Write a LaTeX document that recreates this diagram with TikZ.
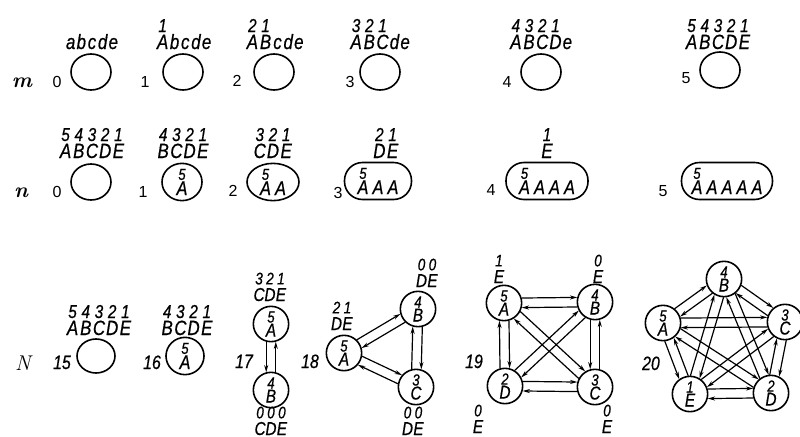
\documentclass[tikz,border=0pt]{standalone}
\usepackage{fontspec}
\usetikzlibrary{calc,arrows.meta,shapes.geometric}
\newfontfamily\gost[FakeStretch=0.82,FakeBold=0.6]{Liberation Sans}
\newfontfamily\plainsans{Liberation Sans}
\newlength\colw
\newlength\rowsep
\def\digfont{}
% one letter column with its digit above
\newcommand\cl[2]{\vbox{\baselineskip=\rowsep\lineskiplimit=-\maxdimen\lineskip=0pt
  \hbox to\colw{\hss{\digfont#1}\hss}\hbox to\colw{\hss#2\hss}}}
% lowercase letter without digit
\newcommand\lc[1]{\hbox to 8pt{\hss#1\hss}}
% clipping radius and angle for paired connectors
\def\rad{13.7pt}
\def\ang{15.2}
\newcommand\biedge[3][1]{%
  \pgfmathsetmacro\angA{(#1)*\ang}%
  \pgfmathsetmacro\angB{0-(\angA)}%
  \draw[edge] ($(#2)!\rad!\angA:(#3)$) -- ($(#3)!\rad!\angB:(#2)$);
  \draw[edge] ($(#3)!\rad!\angA:(#2)$) -- ($(#2)!\rad!\angB:(#3)$);
}
\tikzset{
  lbl/.style={inner sep=0pt, anchor=base,
    font=\gost\itshape\fontsize{15.5}{15.5}\selectfont\setlength\colw{9.9pt}\setlength\rowsep{12.75pt}\def\digfont{\fontsize{14}{14}\selectfont}},
  glbl/.style={inner sep=0pt, anchor=base,
    font=\gost\itshape\fontsize{14}{14}\selectfont\setlength\colw{8.2pt}\setlength\rowsep{12.5pt}\def\digfont{\fontsize{12.5}{12.5}\selectfont}},
  bigin/.style={font=\gost\itshape\fontsize{15}{15}\selectfont\setlength\colw{11.25pt}\setlength\rowsep{11.5pt}\def\digfont{\fontsize{12}{12}\selectfont}},
  ring/.style={draw, line width=1.2pt, ellipse, inner sep=0pt, minimum width=30pt, minimum height=27pt},
  pill/.style={draw, line width=1.2pt, rectangle, rounded corners=13.5pt, inner sep=0pt, minimum height=27.75pt},
  gnode/.style={draw, line width=1.2pt, circle, inner sep=0pt, minimum size=26.5pt,
    font=\gost\itshape\fontsize{14}{14}\selectfont\setlength\colw{9pt}\setlength\rowsep{10.5pt}\def\digfont{\fontsize{12}{12}\selectfont}},
  idx/.style={inner sep=0pt, anchor=base, font=\plainsans\fontsize{12}{12}\selectfont},
  gidx/.style={inner sep=0pt, anchor=base, font=\gost\itshape\fontsize{14.5}{14.5}\selectfont},
  rowname/.style={inner sep=0pt, anchor=base, font=\fontsize{16}{16}\selectfont\bfseries\itshape},
  edge/.style={line width=0.9pt, -{Stealth[length=5.5pt,width=3pt]}}
}
\begin{document}
\begin{tikzpicture}[x=0.75pt,y=-0.75pt]
\useasboundingbox (0,0) rectangle (800,436);

% ---- row m ----
\node[rowname] (lm) at (22,87) {m};
\node[idx] (im0) at (57,87) {0};
\node[idx] (im1) at (145,87) {1};
\node[idx] (im2) at (237,86) {2};
\node[idx] (im3) at (350,87) {3};
\node[idx] (im4) at (507,87) {4};
\node[idx] (im5) at (686,83) {5};
\node[ring] (m0) at (91,72) {};
\node[ring] (m1) at (183,72) {};
\node[ring] (m2) at (274,72) {};
\node[ring] (m3) at (380,72) {};
\node[ring] (m4) at (541,72) {};
\node[ring] (m5) at (720,70) {};
\node[lbl] (tm0) at (92,49) {\lc{a}\lc{b}\lc{c}\lc{d}\lc{e}};
\node[lbl] (tm1) at (184,49) {\cl{1}{A}\lc{b}\lc{c}\lc{d}\lc{e}};
\node[lbl] (tm2) at (275,49) {\cl{2}{A}\cl{1}{B}\lc{c}\lc{d}\lc{e}};
\node[lbl] (tm3) at (380,49) {\cl{3}{A}\cl{2}{B}\cl{1}{C}\lc{d}\lc{e}};
\node[lbl] (tm4) at (541,49) {\cl{4}{A}\cl{3}{B}\cl{2}{C}\cl{1}{D}\lc{e}};
\node[lbl] (tm5) at (718,49) {\cl{5}{A}\cl{4}{B}\cl{3}{C}\cl{2}{D}\cl{1}{E}};

% ---- row n ----
\node[rowname] (ln) at (21,197) {n};
\node[idx] (in0) at (57,197) {0};
\node[idx] (in1) at (143,197) {1};
\node[idx] (in2) at (233,196) {2};
\node[idx] (in3) at (338,198) {3};
\node[idx] (in4) at (491,195) {4};
\node[idx] (in5) at (663,196) {5};
\node[ring] (n0) at (91,182) {};
\node[ring, bigin, minimum width=30pt, minimum height=27.75pt] (n1) at (182,182) {\cl{5}{A}};
\node[ring, bigin, minimum width=39pt, minimum height=27.75pt] (n2) at (273,182) {\cl{5}{A}\cl{}{A}};
\node[pill, bigin, minimum width=50.25pt] (n3) at (378,181) {\cl{5}{A}\cl{}{A}\cl{}{A}};
\node[pill, bigin, minimum width=61.5pt] (n4) at (547,181) {\cl{5}{A}\cl{}{A}\cl{}{A}\cl{}{A}};
\node[pill, bigin, minimum width=68.25pt] (n5) at (727,181) {\cl{5}{A}\cl{}{A}\cl{}{A}\cl{}{A}\cl{}{A}};
\node[lbl] (tn0) at (92,158) {\cl{5}{A}\cl{4}{B}\cl{3}{C}\cl{2}{D}\cl{1}{E}};
\node[lbl] (tn1) at (183,158) {\cl{4}{B}\cl{3}{C}\cl{2}{D}\cl{1}{E}};
\node[lbl] (tn2) at (273,158) {\cl{3}{C}\cl{2}{D}\cl{1}{E}};
\node[lbl] (tn3) at (386,158) {\cl{2}{D}\cl{1}{E}};
\node[lbl] (tn4) at (547,158) {\cl{1}{E}};

% ---- row N ----
\node[inner sep=0pt, anchor=base, font=\fontsize{16}{16}\selectfont\itshape] (lN) at (23,370) {N};
\node[gidx] (i15) at (62,369) {15};
\node[gidx] (i16) at (152,369) {16};
\node[ring, minimum width=28.5pt, minimum height=25.5pt] (N15) at (96,356) {};
\node[ring, bigin, minimum width=28.5pt, minimum height=25.5pt] (N16) at (185,356) {\cl{5}{A}};
\node[lbl] (t15) at (99,335) {\cl{5}{A}\cl{4}{B}\cl{3}{C}\cl{2}{D}\cl{1}{E}};
\node[lbl] (t16) at (187,335) {\cl{4}{B}\cl{3}{C}\cl{2}{D}\cl{1}{E}};

% graph 17
\node[gidx] (i17) at (244,368) {17};
\node[gnode] (gA) at (271,324) {\cl{5}{A}};
\node[gnode] (gB) at (271,390) {\cl{4}{B}};
\node[glbl] (tgA) at (270,301) {\cl{3}{C}\cl{2}{D}\cl{1}{E}};
\node[glbl] (tgB) at (271,435) {\cl{0}{C}\cl{0}{D}\cl{0}{E}};
\biedge[-1]{gA}{gB}

% graph 18
\node[gidx] (i18) at (310,368) {18};
\node[gnode] (hA) at (344,353) {\cl{5}{A}};
\node[gnode] (hB) at (418,309) {\cl{4}{B}};
\node[gnode] (hC) at (416,387) {\cl{3}{C}};
\node[glbl] (thA) at (342,330) {\cl{2}{D}\cl{1}{E}};
\node[glbl] (thB) at (427,287) {\cl{0}{D}\cl{0}{E}};
\node[glbl] (thC) at (413,435) {\cl{0}{D}\cl{0}{E}};
\biedge{hA}{hB}
\biedge{hA}{hC}
\biedge{hB}{hC}

% graph 19
\node[gidx] (i19) at (474,368) {19};
\node[gnode] (iA) at (504,303) {\cl{5}{A}};
\node[gnode] (iB) at (595,302) {\cl{4}{B}};
\node[gnode] (iD) at (505,386) {\cl{2}{D}};
\node[gnode] (iC) at (595,387) {\cl{3}{C}};
\node[glbl] (tiA) at (499,283) {\cl{1}{E}};
\node[glbl] (tiB) at (598,283) {\cl{0}{E}};
\node[glbl] (tiD) at (478,433) {\cl{0}{E}};
\node[glbl] (tiC) at (607,433) {\cl{0}{E}};
\biedge{iA}{iB}
\biedge{iA}{iD}
\biedge[-1]{iB}{iC}
\biedge{iD}{iC}
\biedge{iA}{iC}
\biedge{iB}{iD}

% graph 20
\node[gidx] (i20) at (651,370) {20};
\node[gnode] (jB) at (724,279) {\cl{4}{B}};
\node[gnode] (jA) at (663,323) {\cl{5}{A}};
\node[gnode] (jC) at (785,322) {\cl{3}{C}};
\node[gnode] (jE) at (690,394) {\cl{1}{E}};
\node[gnode] (jD) at (771,393) {\cl{2}{D}};
\biedge{jA}{jB}
\biedge{jB}{jC}
\biedge{jA}{jC}
\biedge{jC}{jD}
\biedge{jE}{jD}
\biedge[-1]{jA}{jE}
\biedge{jB}{jE}
\biedge{jB}{jD}
\biedge{jA}{jD}
\biedge{jC}{jE}
\end{tikzpicture}
\end{document}
